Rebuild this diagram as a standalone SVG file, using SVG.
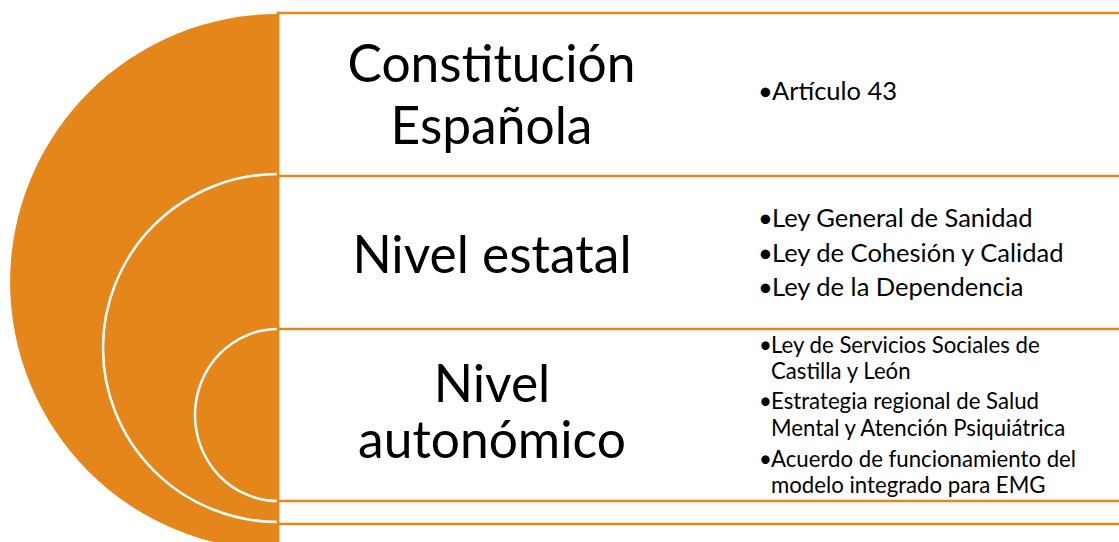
<svg xmlns="http://www.w3.org/2000/svg" width="1119" height="542" viewBox="0 0 1119 542">
<style>
.box{fill:#ffffff;stroke:#E5861A;stroke-width:2.5}
.disc{fill:#E5861A}
.ring{fill:#E5861A;stroke:#ffffff;stroke-width:2.5}
.big{font-family:Lato,"Liberation Sans",sans-serif;font-size:51.5px;fill:#000;text-anchor:middle}
.b1{font-family:Lato,"Liberation Sans",sans-serif;font-size:25.5px;fill:#000}
.b3{font-family:Lato,"Liberation Sans",sans-serif;font-size:22.2px;fill:#000}
</style>
<rect width="1119" height="542" fill="#ffffff"/>
<g id="outer-level">
  <rect class="box" x="278" y="13" width="860" height="560"/>
  <path class="disc" d="M278,14 A268,268 0 0 0 278,550 Z"/>
</g>
<g id="state-level">
  <rect class="box" x="278" y="176" width="860" height="348"/>
  <path class="ring" d="M278,174 A175,174 0 0 0 278,522"/>
</g>
<g id="regional-level">
  <rect class="box" x="278" y="329" width="860" height="172"/>
  <path class="ring" d="M278,329 A83,86 0 0 0 278,501"/>
</g>
<g id="edge">
  <line x1="278" y1="12" x2="278" y2="542" stroke="#E5861A" stroke-width="2.5"/>
</g>
<g id="constitucion">
  <text class="big" x="491.5" y="82">Constitución</text>
  <text class="big" x="491.5" y="144">Española</text>
  <text class="b1" x="758" y="100">•</text>
  <text class="b1" x="772" y="100">Artículo 43</text>
</g>
<g id="estatal">
  <text class="big" x="492" y="273">Nivel estatal</text>
  <text class="b1" x="758" y="227">•</text>
  <text class="b1" x="772" y="227">Ley General de Sanidad</text>
  <text class="b1" x="758" y="262">•</text>
  <text class="b1" x="772" y="262">Ley de Cohesión y Calidad</text>
  <text class="b1" x="758" y="296">•</text>
  <text class="b1" x="772" y="296">Ley de la Dependencia</text>
</g>
<g id="autonomico">
  <text class="big" x="492" y="402">Nivel</text>
  <text class="big" x="492" y="458">autonómico</text>
  <text class="b3" x="759" y="353">•</text>
  <text class="b3" x="771" y="353">Ley de Servicios Sociales de</text>
  <text class="b3" x="771" y="379">Castilla y León</text>
  <text class="b3" x="759" y="409">•</text>
  <text class="b3" x="771" y="409">Estrategia regional de Salud</text>
  <text class="b3" x="771" y="436">Mental y Atención Psiquiátrica</text>
  <text class="b3" x="759" y="467">•</text>
  <text class="b3" x="771" y="467">Acuerdo de funcionamiento del</text>
  <text class="b3" x="771" y="493">modelo integrado para EMG</text>
</g>
</svg>
